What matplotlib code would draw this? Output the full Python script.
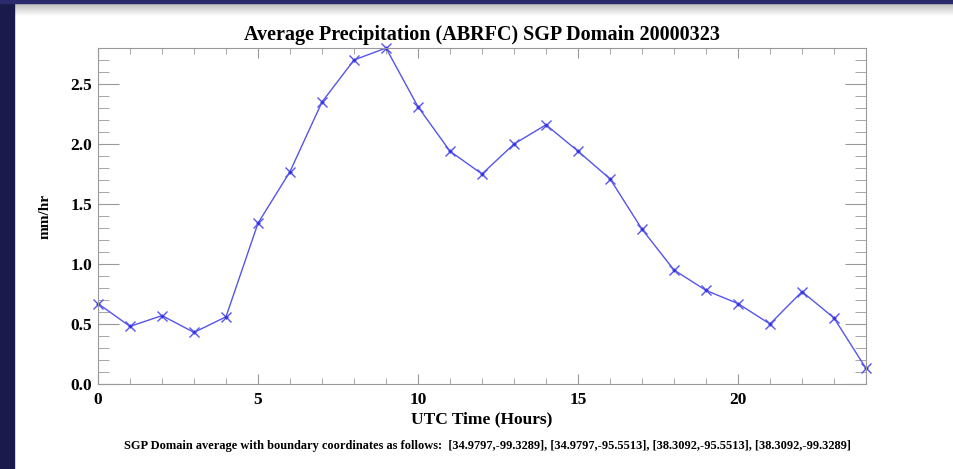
import numpy as np
import matplotlib.pyplot as plt
import matplotlib.patches as patches
from matplotlib.ticker import MultipleLocator

hours = list(range(25))
precip = [0.67, 0.48, 0.57, 0.43, 0.56, 1.34, 1.77, 2.35, 2.70, 2.80,
          2.31, 1.94, 1.75, 2.00, 2.16, 1.94, 1.71, 1.29, 0.95, 0.78,
          0.67, 0.50, 0.77, 0.55, 0.13]

title = "Average Precipitation (ABRFC) SGP Domain 20000323"
note = ("SGP Domain average with boundary coordinates as follows:  "
        "[34.9797,-99.3289], [34.9797,-95.5513], [38.3092,-95.5513], [38.3092,-99.3289]")

plt.rcParams['font.family'] = ['Liberation Serif', 'DejaVu Serif']

fig = plt.figure(figsize=(9.54, 4.69), dpi=100)
W, H = 954, 469

# slide frame: navy strip left and top, grey shade under the top strip
fig.patches.append(patches.Rectangle((0, 0), 14 / W, 1, transform=fig.transFigure,
                                     color='#1a1a4c', zorder=0))
fig.patches.append(patches.Rectangle((0, 1 - 3 / H), 1, 3 / H, transform=fig.transFigure,
                                     color='#2a2a6c', zorder=0))
shade = np.linspace(0.72, 1.0, 50).reshape(-1, 1)
sax = fig.add_axes([14 / W, 1 - 16 / H, 1 - 14 / W, 13 / H])
sax.imshow(shade, cmap='gray', vmin=0, vmax=1, aspect='auto')
sax.axis('off')

ax = fig.add_axes([98 / W, 1 - 384 / H, (866 - 98) / W, (384 - 48) / H])
ax.plot(hours, precip, color='#5555ee', lw=1, marker='x', ms=6.5, mew=1, clip_on=False)
ax.plot(hours, precip, ls='none', color='#3333dd', marker='+', ms=3, mew=1, clip_on=False)
ax.set_xlim(0, 24)
ax.set_ylim(0, 2.8)
ax.xaxis.set_major_locator(MultipleLocator(5))
ax.xaxis.set_minor_locator(MultipleLocator(1))
ax.yaxis.set_major_locator(MultipleLocator(0.5))
ax.yaxis.set_minor_locator(MultipleLocator(0.1))
ax.yaxis.set_major_formatter(plt.FormatStrFormatter('%.1f'))
for s in ax.spines.values():
    s.set_color('#999999')
ax.tick_params(which='both', direction='in', top=True, right=True, color='#999999',
               labelsize=12.5)
ax.tick_params(axis='x', which='major', length=7, pad=6)
ax.tick_params(axis='x', which='minor', length=4)
ax.tick_params(axis='y', which='major', length=15, pad=4)
ax.tick_params(axis='y', which='minor', length=8)
for lab in ax.get_xticklabels() + ax.get_yticklabels():
    lab.set_fontweight('bold')

ax.set_title(title, fontsize=14.5, fontweight='bold', pad=6)
ax.set_xlabel("UTC Time (Hours)", fontsize=12.5, fontweight='bold', labelpad=2)
ax.set_ylabel("mm/hr", fontsize=11, fontweight='bold', labelpad=14)
fig.text(487 / W, 1 - 446 / H, note, ha='center', va='center', fontsize=8.9,
         fontweight='bold')

fig.savefig('out.png', dpi=100)
